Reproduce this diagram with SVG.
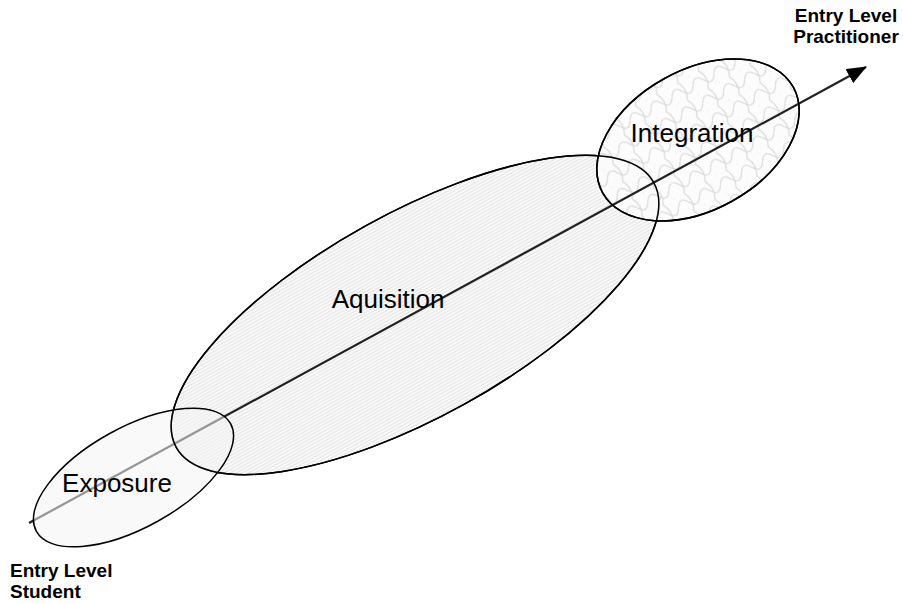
<svg xmlns="http://www.w3.org/2000/svg" width="903" height="604" viewBox="0 0 903 604">
<style>
.lbl{font-family:"Liberation Sans",Arial,sans-serif;font-size:26px;fill:#000}
.end{font-family:"Liberation Sans",Arial,sans-serif;font-size:19px;font-weight:bold;fill:#000}
.ell{stroke:#000;stroke-width:1.5}
</style>
<defs>
<pattern id="hlines" width="4" height="3" patternUnits="userSpaceOnUse">
<rect width="4" height="3" fill="#f9f9f9"/>
<rect width="4" height="1" fill="#e4e4e4"/>
</pattern>
<pattern id="scales" width="24" height="20" patternUnits="userSpaceOnUse">
<rect width="24" height="20" fill="#fcfcfc"/>
<path d="M0,10 Q6,0 12,10 Q18,20 24,10 M0,0 Q-6,10 0,20 M12,0 Q6,-10 0,0 M12,20 Q18,10 12,0" fill="none" stroke="#d4d4d4" stroke-width="1.2"/>
</pattern>
<marker id="arrBig" markerWidth="20" markerHeight="16" refX="19" refY="8" orient="auto" markerUnits="userSpaceOnUse">
<path d="M0,0 L20,8 L0,16 z" fill="#000"/>
</marker>
</defs>
<g id="aquisition">
<ellipse class="ell" cx="415" cy="315" rx="273" ry="102" transform="rotate(-29 415 315)" fill="url(#hlines)"/>
</g>
<g id="integration">
<ellipse class="ell" cx="698" cy="140" rx="109" ry="70" transform="rotate(-29 698 140)" fill="url(#scales)" fill-opacity="0.9"/>
</g>
<g id="connectors">
<line x1="29" y1="523" x2="866" y2="67" stroke="#222" stroke-width="2.2" marker-end="url(#arrBig)"/>
</g>
<g id="exposure">
<ellipse class="ell" cx="133.5" cy="477.5" rx="111" ry="50" transform="rotate(-29 133.5 477.5)" fill="#f4f4f4" fill-opacity="0.55"/>
</g>
<g id="overlap-outlines">
<ellipse cx="415" cy="315" rx="273" ry="102" transform="rotate(-29 415 315)" fill="none" stroke="#000" stroke-width="1.5"/>
<ellipse cx="698" cy="140" rx="109" ry="70" transform="rotate(-29 698 140)" fill="none" stroke="#000" stroke-width="1.5"/>
</g>
<text class="lbl" x="692" y="142" text-anchor="middle">Integration</text>
<text class="lbl" x="388" y="308" text-anchor="middle">Aquisition</text>
<text class="lbl" x="117" y="492" text-anchor="middle">Exposure</text>
<text class="end" x="846" y="22" text-anchor="middle">Entry Level</text>
<text class="end" x="846" y="43" text-anchor="middle">Practitioner</text>
<text class="end" x="10" y="577">Entry Level</text>
<text class="end" x="10" y="598">Student</text>
</svg>
